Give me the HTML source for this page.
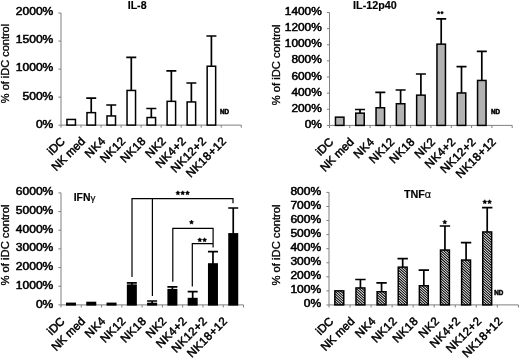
<!DOCTYPE html>
<html><head><meta charset="utf-8"><title>chart</title>
<style>
html,body{margin:0;padding:0;background:#fff;}
body{width:520px;height:358px;overflow:hidden;}
svg{display:block;font-family:"Liberation Sans", sans-serif;fill:#000;filter:grayscale(1) blur(0.3px);}
svg text{font-family:"Liberation Sans", sans-serif;stroke:#000;stroke-width:0.5px;}
</style></head><body>
<svg width="520" height="358" viewBox="0 0 520 358">
<defs>
<filter id="bl" x="-20%" y="-5%" width="140%" height="110%"><feGaussianBlur stdDeviation="0.25"/></filter>
<pattern id="hatch" width="4" height="1.6" patternUnits="userSpaceOnUse" patternTransform="rotate(43)">
<rect width="4" height="1.6" fill="#fff"/><rect width="4" height="0.9" fill="#000"/>
</pattern>
</defs>
<rect width="520" height="358" fill="#fff"/>
<path d="M61.0 13.0V125.1H241.27" fill="none" stroke="#7f7f7f" stroke-width="1"/>
<path d="M58.4 13.00H61.0M58.4 41.05H61.0M58.4 69.10H61.0M58.4 97.15H61.0M58.4 125.20H61.0M61.00 125.1v2.6M81.03 125.1v2.6M101.06 125.1v2.6M121.09 125.1v2.6M141.12 125.1v2.6M161.15 125.1v2.6M181.18 125.1v2.6M201.21 125.1v2.6M221.24 125.1v2.6M241.27 125.1v2.6" fill="none" stroke="#7f7f7f" stroke-width="1"/>
<text transform="translate(53.3,14.60) scale(1.1949,1)" text-anchor="end" font-size="10.1" style="stroke-width:0.5px">2000%</text>
<text transform="translate(53.3,42.95) scale(1.1949,1)" text-anchor="end" font-size="10.1" style="stroke-width:0.5px">1500%</text>
<text transform="translate(53.3,71.30) scale(1.1949,1)" text-anchor="end" font-size="10.1" style="stroke-width:0.5px">1000%</text>
<text transform="translate(53.3,99.65) scale(1.1949,1)" text-anchor="end" font-size="10.1" style="stroke-width:0.5px">500%</text>
<text transform="translate(53.3,128.00) scale(1.1949,1)" text-anchor="end" font-size="10.1" style="stroke-width:0.5px">0%</text>
<text transform="translate(9.1,63.5) rotate(-90) scale(1.0672,1)" text-anchor="middle" font-size="10.3" style="stroke-width:0.3px">% of iDC control</text>
<rect x="66.95" y="119.45" width="8.50" height="5.65" fill="#fff" stroke="#000" stroke-width="1.5"/>
<path d="M91.23 112.65V98.20M86.23 98.20H96.23" stroke="#000" stroke-width="1.7" fill="none"/>
<rect x="86.98" y="112.65" width="8.50" height="12.45" fill="#fff" stroke="#000" stroke-width="1.5"/>
<path d="M111.26 115.95V105.00M106.26 105.00H116.26" stroke="#000" stroke-width="1.7" fill="none"/>
<rect x="107.01" y="115.95" width="8.50" height="9.15" fill="#fff" stroke="#000" stroke-width="1.5"/>
<path d="M131.29 90.45V57.30M126.29 57.30H136.29" stroke="#000" stroke-width="1.7" fill="none"/>
<rect x="127.04" y="90.45" width="8.50" height="34.65" fill="#fff" stroke="#000" stroke-width="1.5"/>
<path d="M151.32 117.55V108.50M146.32 108.50H156.32" stroke="#000" stroke-width="1.7" fill="none"/>
<rect x="147.07" y="117.55" width="8.50" height="7.55" fill="#fff" stroke="#000" stroke-width="1.5"/>
<path d="M171.35 101.35V70.80M166.35 70.80H176.35" stroke="#000" stroke-width="1.7" fill="none"/>
<rect x="167.10" y="101.35" width="8.50" height="23.75" fill="#fff" stroke="#000" stroke-width="1.5"/>
<path d="M191.38 101.95V83.00M186.38 83.00H196.38" stroke="#000" stroke-width="1.7" fill="none"/>
<rect x="187.13" y="101.95" width="8.50" height="23.15" fill="#fff" stroke="#000" stroke-width="1.5"/>
<path d="M211.41 66.25V36.00M206.41 36.00H216.41" stroke="#000" stroke-width="1.7" fill="none"/>
<rect x="207.16" y="66.25" width="8.50" height="58.85" fill="#fff" stroke="#000" stroke-width="1.5"/>
<text transform="translate(65.70,142.00) rotate(-45)" text-anchor="end" font-size="11.6">iDC</text>
<text transform="translate(85.85,142.00) rotate(-45)" text-anchor="end" font-size="11.6">NK med</text>
<text transform="translate(106.28,141.72) rotate(-45)" text-anchor="end" font-size="11.6" letter-spacing="0.4">NK4</text>
<text transform="translate(126.43,141.72) rotate(-45)" text-anchor="end" font-size="11.6" letter-spacing="0.4">NK12</text>
<text transform="translate(146.58,141.72) rotate(-45)" text-anchor="end" font-size="11.6" letter-spacing="0.4">NK18</text>
<text transform="translate(166.73,141.72) rotate(-45)" text-anchor="end" font-size="11.6" letter-spacing="0.4">NK2</text>
<text transform="translate(186.88,141.72) rotate(-45)" text-anchor="end" font-size="11.6" letter-spacing="0.4">NK4+2</text>
<text transform="translate(207.03,141.72) rotate(-45)" text-anchor="end" font-size="11.6" letter-spacing="0.4">NK12+2</text>
<text transform="translate(227.18,141.72) rotate(-45)" text-anchor="end" font-size="11.6" letter-spacing="0.4">NK18+12</text>
<text x="219.9" y="113.8" font-size="6.3" font-weight="bold" text-anchor="start">ND</text>
<text transform="translate(127.7,8.6) scale(1.06,1)" font-size="10" font-weight="bold" style="stroke-width:0.15px">IL-8</text>
<path d="M329.5 12.5V125.4H512.2" fill="none" stroke="#7f7f7f" stroke-width="1"/>
<path d="M326.9 12.50H329.5M326.9 28.63H329.5M326.9 44.76H329.5M326.9 60.89H329.5M326.9 77.02H329.5M326.9 93.15H329.5M326.9 109.28H329.5M326.9 125.41H329.5M329.50 125.4v2.6M349.80 125.4v2.6M370.10 125.4v2.6M390.40 125.4v2.6M410.70 125.4v2.6M431.00 125.4v2.6M451.30 125.4v2.6M471.60 125.4v2.6M491.90 125.4v2.6M512.20 125.4v2.6" fill="none" stroke="#7f7f7f" stroke-width="1"/>
<text transform="translate(321.8,15.10) scale(1.1785,1)" text-anchor="end" font-size="10.1" style="stroke-width:0.5px">1400%</text>
<text transform="translate(321.8,31.23) scale(1.1785,1)" text-anchor="end" font-size="10.1" style="stroke-width:0.5px">1200%</text>
<text transform="translate(321.8,47.36) scale(1.1785,1)" text-anchor="end" font-size="10.1" style="stroke-width:0.5px">1000%</text>
<text transform="translate(321.8,63.49) scale(1.1785,1)" text-anchor="end" font-size="10.1" style="stroke-width:0.5px">800%</text>
<text transform="translate(321.8,79.62) scale(1.1785,1)" text-anchor="end" font-size="10.1" style="stroke-width:0.5px">600%</text>
<text transform="translate(321.8,95.75) scale(1.1785,1)" text-anchor="end" font-size="10.1" style="stroke-width:0.5px">400%</text>
<text transform="translate(321.8,111.88) scale(1.1785,1)" text-anchor="end" font-size="10.1" style="stroke-width:0.5px">200%</text>
<text transform="translate(321.8,128.01) scale(1.1785,1)" text-anchor="end" font-size="10.1" style="stroke-width:0.5px">0%</text>
<text transform="translate(280.4,64.85) rotate(-90) scale(1.0874,1)" text-anchor="middle" font-size="10.3" style="stroke-width:0.3px">% of iDC control</text>
<rect x="335.45" y="117.15" width="8.50" height="8.25" fill="#b2b2b2" stroke="#000" stroke-width="1.5"/>
<path d="M360.00 113.15V109.50M355.00 109.50H365.00" stroke="#000" stroke-width="1.7" fill="none"/>
<rect x="355.75" y="113.15" width="8.50" height="12.25" fill="#b2b2b2" stroke="#000" stroke-width="1.5"/>
<path d="M380.30 107.75V92.30M375.30 92.30H385.30" stroke="#000" stroke-width="1.7" fill="none"/>
<rect x="376.05" y="107.75" width="8.50" height="17.65" fill="#b2b2b2" stroke="#000" stroke-width="1.5"/>
<path d="M400.60 103.75V90.00M395.60 90.00H405.60" stroke="#000" stroke-width="1.7" fill="none"/>
<rect x="396.35" y="103.75" width="8.50" height="21.65" fill="#b2b2b2" stroke="#000" stroke-width="1.5"/>
<path d="M420.90 95.15V74.00M415.90 74.00H425.90" stroke="#000" stroke-width="1.7" fill="none"/>
<rect x="416.65" y="95.15" width="8.50" height="30.25" fill="#b2b2b2" stroke="#000" stroke-width="1.5"/>
<path d="M441.20 44.15V18.90M436.20 18.90H446.20" stroke="#000" stroke-width="1.7" fill="none"/>
<rect x="436.95" y="44.15" width="8.50" height="81.25" fill="#b2b2b2" stroke="#000" stroke-width="1.5"/>
<path d="M461.50 92.95V66.60M456.50 66.60H466.50" stroke="#000" stroke-width="1.7" fill="none"/>
<rect x="457.25" y="92.95" width="8.50" height="32.45" fill="#b2b2b2" stroke="#000" stroke-width="1.5"/>
<path d="M481.80 80.45V51.40M476.80 51.40H486.80" stroke="#000" stroke-width="1.7" fill="none"/>
<rect x="477.55" y="80.45" width="8.50" height="44.95" fill="#b2b2b2" stroke="#000" stroke-width="1.5"/>
<text transform="translate(334.20,142.60) rotate(-45)" text-anchor="end" font-size="11.6">iDC</text>
<text transform="translate(354.50,142.60) rotate(-45)" text-anchor="end" font-size="11.6">NK med</text>
<text transform="translate(375.08,142.32) rotate(-45)" text-anchor="end" font-size="11.6" letter-spacing="0.4">NK4</text>
<text transform="translate(395.38,142.32) rotate(-45)" text-anchor="end" font-size="11.6" letter-spacing="0.4">NK12</text>
<text transform="translate(415.68,142.32) rotate(-45)" text-anchor="end" font-size="11.6" letter-spacing="0.4">NK18</text>
<text transform="translate(435.98,142.32) rotate(-45)" text-anchor="end" font-size="11.6" letter-spacing="0.4">NK2</text>
<text transform="translate(456.28,142.32) rotate(-45)" text-anchor="end" font-size="11.6" letter-spacing="0.4">NK4+2</text>
<text transform="translate(476.58,142.32) rotate(-45)" text-anchor="end" font-size="11.6" letter-spacing="0.4">NK12+2</text>
<text transform="translate(496.88,142.32) rotate(-45)" text-anchor="end" font-size="11.6" letter-spacing="0.4">NK18+12</text>
<text x="490.9" y="114.2" font-size="6.3" font-weight="bold" text-anchor="start">ND</text>
<polygon points="438.60,11.20 439.13,11.97 440.03,12.24 439.46,12.98 439.48,13.91 438.60,13.60 437.72,13.91 437.74,12.98 437.17,12.24 438.07,11.97" fill="#000" stroke="#000" stroke-width="0.5" stroke-linejoin="round"/>
<polygon points="442.00,11.20 442.53,11.97 443.43,12.24 442.86,12.98 442.88,13.91 442.00,13.60 441.12,13.91 441.14,12.98 440.57,12.24 441.47,11.97" fill="#000" stroke="#000" stroke-width="0.5" stroke-linejoin="round"/>
<text transform="translate(353.1,8.6) scale(1.078,1)" font-size="10" font-weight="bold" style="stroke-width:0.15px">IL-12p40</text>
<path d="M61.0 192.9V304.9H243.52" fill="none" stroke="#7f7f7f" stroke-width="1"/>
<path d="M58.4 192.90H61.0M58.4 211.57H61.0M58.4 230.23H61.0M58.4 248.90H61.0M58.4 267.57H61.0M58.4 286.24H61.0M58.4 304.90H61.0M61.00 304.9v2.6M81.28 304.9v2.6M101.56 304.9v2.6M121.84 304.9v2.6M142.12 304.9v2.6M162.40 304.9v2.6M182.68 304.9v2.6M202.96 304.9v2.6M223.24 304.9v2.6M243.52 304.9v2.6" fill="none" stroke="#7f7f7f" stroke-width="1"/>
<text transform="translate(53.3,194.90) scale(1.1949,1)" text-anchor="end" font-size="10.1" style="stroke-width:0.5px">6000%</text>
<text transform="translate(53.3,213.73) scale(1.1949,1)" text-anchor="end" font-size="10.1" style="stroke-width:0.5px">5000%</text>
<text transform="translate(53.3,232.57) scale(1.1949,1)" text-anchor="end" font-size="10.1" style="stroke-width:0.5px">4000%</text>
<text transform="translate(53.3,251.40) scale(1.1949,1)" text-anchor="end" font-size="10.1" style="stroke-width:0.5px">3000%</text>
<text transform="translate(53.3,270.23) scale(1.1949,1)" text-anchor="end" font-size="10.1" style="stroke-width:0.5px">2000%</text>
<text transform="translate(53.3,289.07) scale(1.1949,1)" text-anchor="end" font-size="10.1" style="stroke-width:0.5px">1000%</text>
<text transform="translate(53.3,307.90) scale(1.1949,1)" text-anchor="end" font-size="10.1" style="stroke-width:0.5px">0%</text>
<text transform="translate(8.7,245.0) rotate(-90) scale(1.0914,1)" text-anchor="middle" font-size="10.3" style="stroke-width:0.3px">% of iDC control</text>
<rect x="66.75" y="303.35" width="8.50" height="1.55" fill="#000" stroke="#000" stroke-width="1.5"/>
<rect x="87.03" y="302.45" width="8.50" height="2.45" fill="#000" stroke="#000" stroke-width="1.5"/>
<rect x="107.31" y="303.35" width="8.50" height="1.55" fill="#000" stroke="#000" stroke-width="1.5"/>
<path d="M131.84 285.15V282.90M126.84 282.90H136.84" stroke="#000" stroke-width="1.7" fill="none"/>
<rect x="127.59" y="285.15" width="8.50" height="19.75" fill="#000" stroke="#000" stroke-width="1.5"/>
<path d="M152.12 303.45V301.00M147.12 301.00H157.12" stroke="#000" stroke-width="1.7" fill="none"/>
<rect x="147.87" y="303.45" width="8.50" height="1.45" fill="#000" stroke="#000" stroke-width="1.5"/>
<path d="M172.40 289.65V286.90M167.40 286.90H177.40" stroke="#000" stroke-width="1.7" fill="none"/>
<rect x="168.15" y="289.65" width="8.50" height="15.25" fill="#000" stroke="#000" stroke-width="1.5"/>
<path d="M192.68 298.55V291.70M187.68 291.70H197.68" stroke="#000" stroke-width="1.7" fill="none"/>
<rect x="188.43" y="298.55" width="8.50" height="6.35" fill="#000" stroke="#000" stroke-width="1.5"/>
<path d="M212.96 263.95V251.60M207.96 251.60H217.96" stroke="#000" stroke-width="1.7" fill="none"/>
<rect x="208.71" y="263.95" width="8.50" height="40.95" fill="#000" stroke="#000" stroke-width="1.5"/>
<path d="M233.24 233.85V208.00M228.24 208.00H238.24" stroke="#000" stroke-width="1.7" fill="none"/>
<rect x="228.99" y="233.85" width="8.50" height="71.05" fill="#000" stroke="#000" stroke-width="1.5"/>
<text transform="translate(65.50,322.00) rotate(-45)" text-anchor="end" font-size="11.6">iDC</text>
<text transform="translate(85.80,322.00) rotate(-45)" text-anchor="end" font-size="11.6">NK med</text>
<text transform="translate(106.38,321.72) rotate(-45)" text-anchor="end" font-size="11.6" letter-spacing="0.4">NK4</text>
<text transform="translate(126.68,321.72) rotate(-45)" text-anchor="end" font-size="11.6" letter-spacing="0.4">NK12</text>
<text transform="translate(146.98,321.72) rotate(-45)" text-anchor="end" font-size="11.6" letter-spacing="0.4">NK18</text>
<text transform="translate(167.28,321.72) rotate(-45)" text-anchor="end" font-size="11.6" letter-spacing="0.4">NK2</text>
<text transform="translate(187.58,321.72) rotate(-45)" text-anchor="end" font-size="11.6" letter-spacing="0.4">NK4+2</text>
<text transform="translate(207.88,321.72) rotate(-45)" text-anchor="end" font-size="11.6" letter-spacing="0.4">NK12+2</text>
<text transform="translate(228.18,321.72) rotate(-45)" text-anchor="end" font-size="11.6" letter-spacing="0.4">NK18+12</text>
<path d="M132 277.1V198.7H233V203.2M152.4 198.7V295.9M172.8 281.7V228.3H213.1V247.6M192.3 286.5V243.6H213.1" fill="none" stroke="#000" stroke-width="1.2"/>
<polygon points="177.90,190.80 178.61,192.03 179.99,192.32 179.04,193.37 179.19,194.78 177.90,194.20 176.61,194.78 176.76,193.37 175.81,192.32 177.19,192.03" fill="#000" stroke="#000" stroke-width="0.5" stroke-linejoin="round"/>
<polygon points="182.70,190.80 183.41,192.03 184.79,192.32 183.84,193.37 183.99,194.78 182.70,194.20 181.41,194.78 181.56,193.37 180.61,192.32 181.99,192.03" fill="#000" stroke="#000" stroke-width="0.5" stroke-linejoin="round"/>
<polygon points="187.50,190.80 188.21,192.03 189.59,192.32 188.64,193.37 188.79,194.78 187.50,194.20 186.21,194.78 186.36,193.37 185.41,192.32 186.79,192.03" fill="#000" stroke="#000" stroke-width="0.5" stroke-linejoin="round"/>
<polygon points="191.50,220.10 192.21,221.33 193.59,221.62 192.64,222.67 192.79,224.08 191.50,223.50 190.21,224.08 190.36,222.67 189.41,221.62 190.79,221.33" fill="#000" stroke="#000" stroke-width="0.5" stroke-linejoin="round"/>
<polygon points="199.80,237.80 200.51,239.03 201.89,239.32 200.94,240.37 201.09,241.78 199.80,241.20 198.51,241.78 198.66,240.37 197.71,239.32 199.09,239.03" fill="#000" stroke="#000" stroke-width="0.5" stroke-linejoin="round"/>
<polygon points="204.60,237.80 205.31,239.03 206.69,239.32 205.74,240.37 205.89,241.78 204.60,241.20 203.31,241.78 203.46,240.37 202.51,239.32 203.89,239.03" fill="#000" stroke="#000" stroke-width="0.5" stroke-linejoin="round"/>
<text transform="translate(73.7,200.6) scale(1.04,1)" font-size="10" font-weight="bold" style="stroke-width:0.15px">IFN<tspan font-weight="normal" font-size="9.5">&#947;</tspan></text>
<path d="M329.0 192.4V304.9H518.36" fill="none" stroke="#7f7f7f" stroke-width="1"/>
<path d="M326.4 192.40H329.0M326.4 206.47H329.0M326.4 220.54H329.0M326.4 234.61H329.0M326.4 248.68H329.0M326.4 262.75H329.0M326.4 276.82H329.0M326.4 290.89H329.0M326.4 304.96H329.0M329.00 304.9v2.6M350.04 304.9v2.6M371.08 304.9v2.6M392.12 304.9v2.6M413.16 304.9v2.6M434.20 304.9v2.6M455.24 304.9v2.6M476.28 304.9v2.6M497.32 304.9v2.6M518.36 304.9v2.6" fill="none" stroke="#7f7f7f" stroke-width="1"/>
<text transform="translate(321.2,194.60) scale(1.1949,1)" text-anchor="end" font-size="10.1" style="stroke-width:0.5px">800%</text>
<text transform="translate(321.2,208.65) scale(1.1949,1)" text-anchor="end" font-size="10.1" style="stroke-width:0.5px">700%</text>
<text transform="translate(321.2,222.69) scale(1.1949,1)" text-anchor="end" font-size="10.1" style="stroke-width:0.5px">600%</text>
<text transform="translate(321.2,236.74) scale(1.1949,1)" text-anchor="end" font-size="10.1" style="stroke-width:0.5px">500%</text>
<text transform="translate(321.2,250.78) scale(1.1949,1)" text-anchor="end" font-size="10.1" style="stroke-width:0.5px">400%</text>
<text transform="translate(321.2,264.82) scale(1.1949,1)" text-anchor="end" font-size="10.1" style="stroke-width:0.5px">300%</text>
<text transform="translate(321.2,278.87) scale(1.1949,1)" text-anchor="end" font-size="10.1" style="stroke-width:0.5px">200%</text>
<text transform="translate(321.2,292.91) scale(1.1949,1)" text-anchor="end" font-size="10.1" style="stroke-width:0.5px">100%</text>
<text transform="translate(321.2,306.96) scale(1.1949,1)" text-anchor="end" font-size="10.1" style="stroke-width:0.5px">0%</text>
<text transform="translate(280.1,245.0) rotate(-90) scale(1.0914,1)" text-anchor="middle" font-size="10.3" style="stroke-width:0.3px">% of iDC control</text>
<rect x="334.85" y="290.85" width="8.90" height="14.05" fill="#fff"/>
<clipPath id="c329_0"><rect x="334.85" y="290.85" width="8.90" height="14.05"/></clipPath>
<g clip-path="url(#c329_0)"><path d="M334.85 280.95l8.90 8.01M334.85 283.50l8.90 8.01M334.85 286.05l8.90 8.01M334.85 288.60l8.90 8.01M334.85 291.15l8.90 8.01M334.85 293.70l8.90 8.01M334.85 296.25l8.90 8.01M334.85 298.80l8.90 8.01M334.85 301.35l8.90 8.01M334.85 303.90l8.90 8.01" stroke="#000" stroke-width="1.05" fill="none"/></g>
<rect x="334.85" y="290.85" width="8.90" height="14.05" fill="none" stroke="#000" stroke-width="1.5"/>
<path d="M360.43 287.95V279.50M355.23 279.50H365.63" stroke="#000" stroke-width="1.7" fill="none"/>
<rect x="355.98" y="287.95" width="8.90" height="16.95" fill="#fff"/>
<clipPath id="c329_1"><rect x="355.98" y="287.95" width="8.90" height="16.95"/></clipPath>
<g clip-path="url(#c329_1)"><path d="M355.98 278.05l8.90 8.01M355.98 280.60l8.90 8.01M355.98 283.15l8.90 8.01M355.98 285.70l8.90 8.01M355.98 288.25l8.90 8.01M355.98 290.80l8.90 8.01M355.98 293.35l8.90 8.01M355.98 295.90l8.90 8.01M355.98 298.45l8.90 8.01M355.98 301.00l8.90 8.01M355.98 303.55l8.90 8.01" stroke="#000" stroke-width="1.05" fill="none"/></g>
<rect x="355.98" y="287.95" width="8.90" height="16.95" fill="none" stroke="#000" stroke-width="1.5"/>
<path d="M381.56 291.75V282.80M376.36 282.80H386.76" stroke="#000" stroke-width="1.7" fill="none"/>
<rect x="377.11" y="291.75" width="8.90" height="13.15" fill="#fff"/>
<clipPath id="c329_2"><rect x="377.11" y="291.75" width="8.90" height="13.15"/></clipPath>
<g clip-path="url(#c329_2)"><path d="M377.11 281.85l8.90 8.01M377.11 284.40l8.90 8.01M377.11 286.95l8.90 8.01M377.11 289.50l8.90 8.01M377.11 292.05l8.90 8.01M377.11 294.60l8.90 8.01M377.11 297.15l8.90 8.01M377.11 299.70l8.90 8.01M377.11 302.25l8.90 8.01M377.11 304.80l8.90 8.01" stroke="#000" stroke-width="1.05" fill="none"/></g>
<rect x="377.11" y="291.75" width="8.90" height="13.15" fill="none" stroke="#000" stroke-width="1.5"/>
<path d="M402.69 267.15V258.70M397.49 258.70H407.89" stroke="#000" stroke-width="1.7" fill="none"/>
<rect x="398.24" y="267.15" width="8.90" height="37.75" fill="#fff"/>
<clipPath id="c329_3"><rect x="398.24" y="267.15" width="8.90" height="37.75"/></clipPath>
<g clip-path="url(#c329_3)"><path d="M398.24 257.25l8.90 8.01M398.24 259.80l8.90 8.01M398.24 262.35l8.90 8.01M398.24 264.90l8.90 8.01M398.24 267.45l8.90 8.01M398.24 270.00l8.90 8.01M398.24 272.55l8.90 8.01M398.24 275.10l8.90 8.01M398.24 277.65l8.90 8.01M398.24 280.20l8.90 8.01M398.24 282.75l8.90 8.01M398.24 285.30l8.90 8.01M398.24 287.85l8.90 8.01M398.24 290.40l8.90 8.01M398.24 292.95l8.90 8.01M398.24 295.50l8.90 8.01M398.24 298.05l8.90 8.01M398.24 300.60l8.90 8.01M398.24 303.15l8.90 8.01M398.24 305.70l8.90 8.01" stroke="#000" stroke-width="1.05" fill="none"/></g>
<rect x="398.24" y="267.15" width="8.90" height="37.75" fill="none" stroke="#000" stroke-width="1.5"/>
<path d="M423.82 285.75V270.20M418.62 270.20H429.02" stroke="#000" stroke-width="1.7" fill="none"/>
<rect x="419.37" y="285.75" width="8.90" height="19.15" fill="#fff"/>
<clipPath id="c329_4"><rect x="419.37" y="285.75" width="8.90" height="19.15"/></clipPath>
<g clip-path="url(#c329_4)"><path d="M419.37 275.85l8.90 8.01M419.37 278.40l8.90 8.01M419.37 280.95l8.90 8.01M419.37 283.50l8.90 8.01M419.37 286.05l8.90 8.01M419.37 288.60l8.90 8.01M419.37 291.15l8.90 8.01M419.37 293.70l8.90 8.01M419.37 296.25l8.90 8.01M419.37 298.80l8.90 8.01M419.37 301.35l8.90 8.01M419.37 303.90l8.90 8.01" stroke="#000" stroke-width="1.05" fill="none"/></g>
<rect x="419.37" y="285.75" width="8.90" height="19.15" fill="none" stroke="#000" stroke-width="1.5"/>
<path d="M444.95 250.05V226.00M439.75 226.00H450.15" stroke="#000" stroke-width="1.7" fill="none"/>
<rect x="440.50" y="250.05" width="8.90" height="54.85" fill="#fff"/>
<clipPath id="c329_5"><rect x="440.50" y="250.05" width="8.90" height="54.85"/></clipPath>
<g clip-path="url(#c329_5)"><path d="M440.50 240.15l8.90 8.01M440.50 242.70l8.90 8.01M440.50 245.25l8.90 8.01M440.50 247.80l8.90 8.01M440.50 250.35l8.90 8.01M440.50 252.90l8.90 8.01M440.50 255.45l8.90 8.01M440.50 258.00l8.90 8.01M440.50 260.55l8.90 8.01M440.50 263.10l8.90 8.01M440.50 265.65l8.90 8.01M440.50 268.20l8.90 8.01M440.50 270.75l8.90 8.01M440.50 273.30l8.90 8.01M440.50 275.85l8.90 8.01M440.50 278.40l8.90 8.01M440.50 280.95l8.90 8.01M440.50 283.50l8.90 8.01M440.50 286.05l8.90 8.01M440.50 288.60l8.90 8.01M440.50 291.15l8.90 8.01M440.50 293.70l8.90 8.01M440.50 296.25l8.90 8.01M440.50 298.80l8.90 8.01M440.50 301.35l8.90 8.01M440.50 303.90l8.90 8.01" stroke="#000" stroke-width="1.05" fill="none"/></g>
<rect x="440.50" y="250.05" width="8.90" height="54.85" fill="none" stroke="#000" stroke-width="1.5"/>
<path d="M466.08 260.05V242.60M460.88 242.60H471.28" stroke="#000" stroke-width="1.7" fill="none"/>
<rect x="461.63" y="260.05" width="8.90" height="44.85" fill="#fff"/>
<clipPath id="c329_6"><rect x="461.63" y="260.05" width="8.90" height="44.85"/></clipPath>
<g clip-path="url(#c329_6)"><path d="M461.63 250.15l8.90 8.01M461.63 252.70l8.90 8.01M461.63 255.25l8.90 8.01M461.63 257.80l8.90 8.01M461.63 260.35l8.90 8.01M461.63 262.90l8.90 8.01M461.63 265.45l8.90 8.01M461.63 268.00l8.90 8.01M461.63 270.55l8.90 8.01M461.63 273.10l8.90 8.01M461.63 275.65l8.90 8.01M461.63 278.20l8.90 8.01M461.63 280.75l8.90 8.01M461.63 283.30l8.90 8.01M461.63 285.85l8.90 8.01M461.63 288.40l8.90 8.01M461.63 290.95l8.90 8.01M461.63 293.50l8.90 8.01M461.63 296.05l8.90 8.01M461.63 298.60l8.90 8.01M461.63 301.15l8.90 8.01M461.63 303.70l8.90 8.01" stroke="#000" stroke-width="1.05" fill="none"/></g>
<rect x="461.63" y="260.05" width="8.90" height="44.85" fill="none" stroke="#000" stroke-width="1.5"/>
<path d="M487.21 231.95V207.70M482.01 207.70H492.41" stroke="#000" stroke-width="1.7" fill="none"/>
<rect x="482.76" y="231.95" width="8.90" height="72.95" fill="#fff"/>
<clipPath id="c329_7"><rect x="482.76" y="231.95" width="8.90" height="72.95"/></clipPath>
<g clip-path="url(#c329_7)"><path d="M482.76 222.05l8.90 8.01M482.76 224.60l8.90 8.01M482.76 227.15l8.90 8.01M482.76 229.70l8.90 8.01M482.76 232.25l8.90 8.01M482.76 234.80l8.90 8.01M482.76 237.35l8.90 8.01M482.76 239.90l8.90 8.01M482.76 242.45l8.90 8.01M482.76 245.00l8.90 8.01M482.76 247.55l8.90 8.01M482.76 250.10l8.90 8.01M482.76 252.65l8.90 8.01M482.76 255.20l8.90 8.01M482.76 257.75l8.90 8.01M482.76 260.30l8.90 8.01M482.76 262.85l8.90 8.01M482.76 265.40l8.90 8.01M482.76 267.95l8.90 8.01M482.76 270.50l8.90 8.01M482.76 273.05l8.90 8.01M482.76 275.60l8.90 8.01M482.76 278.15l8.90 8.01M482.76 280.70l8.90 8.01M482.76 283.25l8.90 8.01M482.76 285.80l8.90 8.01M482.76 288.35l8.90 8.01M482.76 290.90l8.90 8.01M482.76 293.45l8.90 8.01M482.76 296.00l8.90 8.01M482.76 298.55l8.90 8.01M482.76 301.10l8.90 8.01M482.76 303.65l8.90 8.01" stroke="#000" stroke-width="1.05" fill="none"/></g>
<rect x="482.76" y="231.95" width="8.90" height="72.95" fill="none" stroke="#000" stroke-width="1.5"/>
<text transform="translate(334.10,322.00) rotate(-45)" text-anchor="end" font-size="11.6">iDC</text>
<text transform="translate(355.23,322.00) rotate(-45)" text-anchor="end" font-size="11.6">NK med</text>
<text transform="translate(376.64,321.72) rotate(-45)" text-anchor="end" font-size="11.6" letter-spacing="0.4">NK4</text>
<text transform="translate(397.77,321.72) rotate(-45)" text-anchor="end" font-size="11.6" letter-spacing="0.4">NK12</text>
<text transform="translate(418.90,321.72) rotate(-45)" text-anchor="end" font-size="11.6" letter-spacing="0.4">NK18</text>
<text transform="translate(440.03,321.72) rotate(-45)" text-anchor="end" font-size="11.6" letter-spacing="0.4">NK2</text>
<text transform="translate(461.16,321.72) rotate(-45)" text-anchor="end" font-size="11.6" letter-spacing="0.4">NK4+2</text>
<text transform="translate(482.29,321.72) rotate(-45)" text-anchor="end" font-size="11.6" letter-spacing="0.4">NK12+2</text>
<text transform="translate(503.42,321.72) rotate(-45)" text-anchor="end" font-size="11.6" letter-spacing="0.4">NK18+12</text>
<text x="494.2" y="294.5" font-size="6.3" font-weight="bold" text-anchor="start">ND</text>
<polygon points="444.80,219.90 445.51,221.13 446.89,221.42 445.94,222.47 446.09,223.88 444.80,223.30 443.51,223.88 443.66,222.47 442.71,221.42 444.09,221.13" fill="#000" stroke="#000" stroke-width="0.5" stroke-linejoin="round"/>
<polygon points="484.80,199.70 485.51,200.93 486.89,201.22 485.94,202.27 486.09,203.68 484.80,203.10 483.51,203.68 483.66,202.27 482.71,201.22 484.09,200.93" fill="#000" stroke="#000" stroke-width="0.5" stroke-linejoin="round"/>
<polygon points="489.50,199.70 490.21,200.93 491.59,201.22 490.64,202.27 490.79,203.68 489.50,203.10 488.21,203.68 488.36,202.27 487.41,201.22 488.79,200.93" fill="#000" stroke="#000" stroke-width="0.5" stroke-linejoin="round"/>
<text transform="translate(403.9,198.0) scale(1.08,1)" font-size="10" font-weight="bold" style="stroke-width:0.15px">TNF<tspan font-weight="normal">&#945;</tspan></text>
</svg>
</body></html>
